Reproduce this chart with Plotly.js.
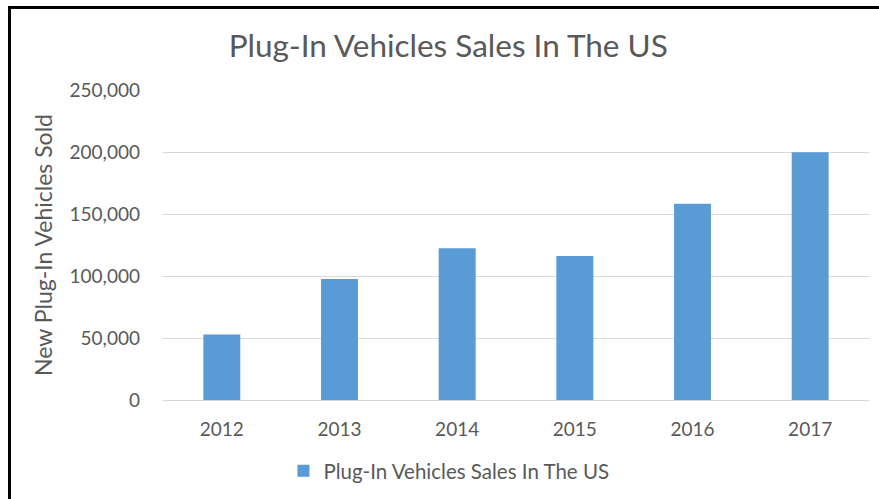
<!DOCTYPE html>
<html>
<head>
<meta charset="utf-8">
<script src="https://cdn.plot.ly/plotly-3.0.1.min.js"></script>
<style>
  html, body { margin: 0; padding: 0; background: #fff; }
  #wrap { position: relative; width: 879px; height: 499px; overflow: hidden; }
  #chart { position: absolute; left: 0; top: 0; width: 879px; height: 499px; }
  #frame { position: absolute; left: 8px; top: 6px; width: 900px; height: 520px;
           border-top: 3px solid #000; border-left: 3px solid #000; pointer-events: none; }
</style>
</head>
<body>
<div id="wrap">
  <div id="chart"></div>
  <div id="frame"></div>
</div>
<script>
const years = ["2012", "2013", "2014", "2015", "2016", "2017"];
const sales = [52800, 97500, 122400, 116100, 158300, 199800];
const yTicks = [0, 50000, 100000, 150000, 200000, 250000];
const yTickLabels = ["0", "50,000", "100,000", "150,000", "200,000", "250,000"];
const seriesName = "Plug-In Vehicles Sales In The US";
const chartTitle = "Plug-In Vehicles Sales In The US";
const yTitle = "New Plug-In Vehicles Sold";

const font = "Lato, 'Open Sans', sans-serif";
const grey = "#595959";

const trace = {
  type: "bar",
  x: years,
  y: sales,
  name: seriesName,
  marker: { color: "#5B9BD5", line: { width: 0 } },
  showlegend: true
};

const layout = {
  width: 879,
  height: 499,
  margin: { l: 163, r: 10, t: 90, b: 99, autoexpand: false },
  paper_bgcolor: "#ffffff",
  plot_bgcolor: "#ffffff",
  font: { family: font, color: grey, size: 19 },
  title: {
    text: chartTitle,
    font: { family: font, size: 31.5, color: grey },
    x: 0.51, xref: "container", xanchor: "center",
    y: 0.908, yref: "container", yanchor: "middle"
  },
  bargap: 0.686,
  xaxis: {
    type: "category",
    automargin: false,
    showgrid: false,
    zeroline: false,
    showline: false,
    ticks: "",
    tickfont: { family: font, size: 19, color: grey },
    ticklabelstandoff: 16
  },
  yaxis: {
    range: [0, 250000],
    automargin: false,
    tickvals: yTicks,
    ticktext: yTickLabels,
    showgrid: true,
    gridcolor: "#D9D9D9",
    gridwidth: 1,
    zeroline: true,
    zerolinecolor: "#D9D9D9",
    zerolinewidth: 1,
    showline: false,
    ticks: "",
    tickfont: { family: font, size: 19, color: grey },
    ticklabelstandoff: 22,
    title: {
      text: yTitle,
      font: { family: font, size: 23, color: grey },
      standoff: 10
    }
  },
  legend: {
    orientation: "h",
    x: 0.405, xanchor: "center",
    y: -0.229, yanchor: "middle",
    itemwidth: 30,
    font: { family: font, size: 20.5, color: grey },
    bgcolor: "rgba(0,0,0,0)"
  },
  showlegend: true,
  hovermode: false
};

Plotly.newPlot("chart", [trace], layout, { staticPlot: true, displayModeBar: false });
</script>
</body>
</html>
